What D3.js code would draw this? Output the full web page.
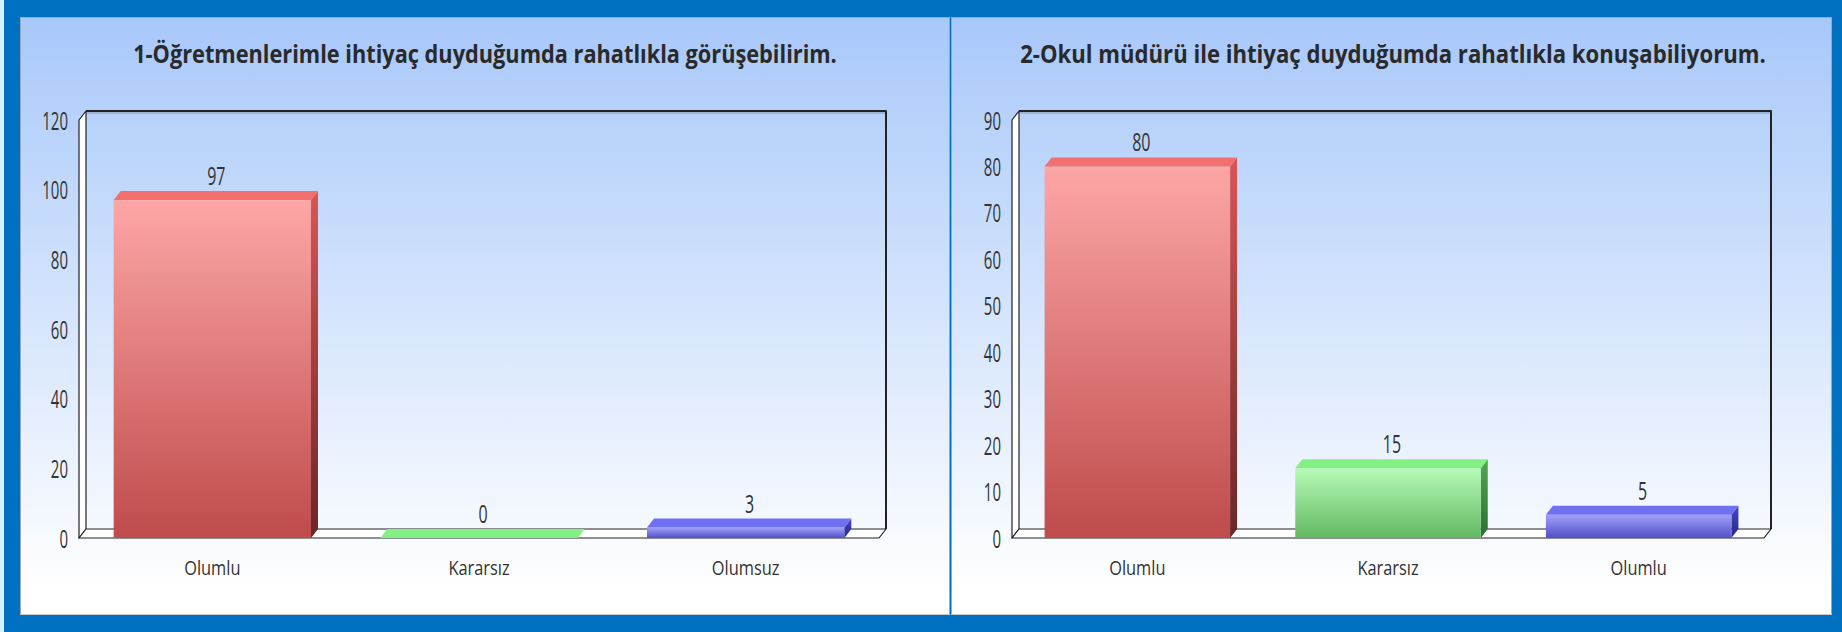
<!DOCTYPE html>
<html><head><meta charset="utf-8">
<script src="https://cdn.jsdelivr.net/npm/d3@7"></script>
<style>html,body{margin:0;padding:0;background:#0070C0;overflow:hidden} svg{display:block}</style>
</head><body>
<svg id="c" width="1842" height="632"></svg>
<script>
// ---- data ----
const titles = ["1-Öğretmenlerimle ihtiyaç duyduğumda rahatlıkla görüşebilirim.",
                "2-Okul müdürü ile ihtiyaç duyduğumda rahatlıkla konuşabiliyorum."];
const categories1 = ["Olumlu", "Kararsız", "Olumsuz"];
const values1 = [97, 0, 3];
const categories2 = ["Olumlu", "Kararsız", "Olumlu"];
const values2 = [80, 15, 5];
const yTicks1 = [0, 20, 40, 60, 80, 100, 120];
const yTicks2 = [0, 10, 20, 30, 40, 50, 60, 70, 80, 90];
const seriesColors = ["red", "green", "blue"];

// ---- styles ----
const palette = {
  red:   {frontTop: "#FDA6A6", frontBot: "#BF4B4B", top: "#F27070", sideTop: "#D95656", sideBot: "#672727"},
  green: {frontTop: "#B6FBB6", frontBot: "#62B862", top: "#82F082", sideTop: "#52A852", sideBot: "#2E6E2E"},
  blue:  {frontTop: "#A0A0FA", frontBot: "#5050C8", top: "#7070F2", sideTop: "#4848C4", sideBot: "#262688"}
};
const FONT = "'Open Sans', 'DejaVu Sans', sans-serif";
const TXT = "#333333";

const svg = d3.select("#c");
const defs = svg.append("defs");

// background
svg.append("rect").attr("width", 1842).attr("height", 632).attr("fill", "#0070C0");
svg.append("rect").attr("x", 0).attr("y", 0).attr("width", 4).attr("height", 632).attr("fill", "#D2F3FB");

const bg = defs.append("linearGradient").attr("id", "panelBg")
  .attr("gradientUnits", "userSpaceOnUse").attr("x1", 0).attr("y1", 17).attr("x2", 0).attr("y2", 590);
bg.append("stop").attr("offset", 0).attr("stop-color", "#A8C8FA");
bg.append("stop").attr("offset", 0.45).attr("stop-color", "#CFE1FC");
bg.append("stop").attr("offset", 1).attr("stop-color", "#FFFFFF");

Object.entries(palette).forEach(([k, c]) => {
  const f = defs.append("linearGradient").attr("id", "front-" + k).attr("x1", 0).attr("y1", 0).attr("x2", 0).attr("y2", 1);
  f.append("stop").attr("offset", 0).attr("stop-color", c.frontTop);
  f.append("stop").attr("offset", 1).attr("stop-color", c.frontBot);
  const s = defs.append("linearGradient").attr("id", "side-" + k).attr("x1", 0).attr("y1", 0).attr("x2", 0).attr("y2", 1);
  s.append("stop").attr("offset", 0).attr("stop-color", c.sideTop);
  s.append("stop").attr("offset", 1).attr("stop-color", c.sideBot);
});

const panels = [
  {x0: 20, x1: 950, L: 79, R: 879, tx: 485, tf: 0.87, title: titles[0], cats: categories1, vals: values1, ticks: yTicks1, max: 120},
  {x0: 951, x1: 1832, L: 1012, R: 1764, tx: 1393, tf: 0.885, title: titles[1], cats: categories2, vals: values2, ticks: yTicks2, max: 90}
];

// horizontal condensing of a text about its own anchor x
function squeeze(sel, f) {
  sel.each(function () {
    const x0 = +(this.getAttribute("x") || 0);
    d3.select(this).attr("transform", `translate(${x0},0) scale(${f},1) translate(${-x0},0)`);
  });
}

const DX = 7, DY = -9, Y0 = 538, YT = 120;

panels.forEach(p => {
  const g = svg.append("g");
  // panel
  g.append("rect").attr("x", p.x0).attr("y", 17).attr("width", p.x1 - p.x0).attr("height", 598)
    .attr("fill", "url(#panelBg)");
  g.append("path").attr("d", `M${p.x0 + 0.5},615 V17.5 H${p.x1 - 0.5} V615`).attr("fill", "none")
    .attr("stroke", "#9AA7B8").attr("stroke-width", 1);
  g.append("line").attr("x1", p.x0).attr("x2", p.x1).attr("y1", 614.5).attr("y2", 614.5).attr("stroke", "#C8C8C8");

  // title
  const t = g.append("text").attr("x", p.tx).attr("y", 63).attr("text-anchor", "middle")
    .attr("font-family", FONT).attr("font-weight", "bold").attr("font-size", 25).attr("fill", "#2A2A2A")
    .text(p.title);
  squeeze(t, p.tf);

  const x = d3.scaleBand().domain(d3.range(p.cats.length)).range([p.L, p.R]).paddingInner(0.26).paddingOuter(0.13);
  const y = d3.scaleLinear().domain([0, p.max]).range([Y0, YT]);
  const yTop = y(p.max);

  // frame: left wall, floor, back wall edges
  const fr = g.append("g").attr("stroke", "#222").attr("stroke-width", 1.2).attr("stroke-linejoin", "round");
  fr.append("path").attr("fill", "#FFFFFF")
    .attr("d", `M${p.L},${Y0} L${p.L + DX},${Y0 + DY} L${p.L + DX},${yTop + DY} L${p.L},${yTop} Z`);
  fr.append("path").attr("fill", "#FFFFFF")
    .attr("d", `M${p.L},${Y0} L${p.R},${Y0} L${p.R + DX},${Y0 + DY} L${p.L + DX},${Y0 + DY} Z`);
  fr.append("path").attr("fill", "none").attr("stroke-width", 2)
    .attr("d", `M${p.L + DX},${yTop + DY} H${p.R + DX} V${Y0 + DY}`);
  g.append("line").attr("x1", p.L + DX + 1).attr("x2", p.R + DX - 1).attr("y1", yTop + DY + 2).attr("y2", yTop + DY + 2)
    .attr("stroke", "#8A96A8").attr("stroke-width", 1);

  // y axis
  const ya = g.append("g").attr("transform", `translate(${p.L},0)`)
    .call(d3.axisLeft(y).tickValues(p.ticks).tickSize(0).tickPadding(11));
  ya.select(".domain").remove();
  ya.selectAll("text").attr("font-family", FONT).attr("font-size", 25).attr("fill", TXT).attr("dy", "0.36em");
  squeeze(ya.selectAll("text"), 0.6);

  // bars
  const bw = x.bandwidth();
  const bars = g.selectAll("g.bar").data(p.vals).join("g").attr("class", "bar");
  bars.append("path").attr("fill", (d, i) => `url(#side-${seriesColors[i]})`)
    .attr("d", (d, i) => {
      const x1 = x(i) + bw, yv = y(d);
      return `M${x1},${yv} L${x1 + DX},${yv + DY} L${x1 + DX},${Y0 + DY} L${x1},${Y0} Z`;
    });
  bars.append("rect").attr("x", (d, i) => x(i)).attr("y", d => y(d)).attr("width", bw)
    .attr("height", d => Math.max(0.01, Y0 - y(d)))
    .attr("fill", (d, i) => `url(#front-${seriesColors[i]})`);
  bars.append("path").attr("fill", (d, i) => palette[seriesColors[i]].top)
    .attr("d", (d, i) => {
      const x0 = x(i), yv = y(d);
      return `M${x0},${yv} L${x0 + DX},${yv + DY} L${x0 + bw + DX},${yv + DY} L${x0 + bw},${yv} Z`;
    });
  const vl = bars.append("text").attr("x", (d, i) => x(i) + bw / 2 + 4).attr("y", d => y(d) + DY - 6)
    .attr("text-anchor", "middle").attr("font-family", FONT).attr("font-size", 25).attr("fill", TXT)
    .text(d => d);
  squeeze(vl, 0.64);

  // x axis labels
  const xa = g.append("g").attr("transform", `translate(0,${Y0})`)
    .call(d3.axisBottom(x).tickFormat(i => p.cats[i]).tickSize(0).tickPadding(23));
  xa.select(".domain").remove();
  xa.selectAll("text").attr("font-family", FONT).attr("font-size", 20).attr("fill", TXT);
  squeeze(xa.selectAll("text"), 0.82);
});
</script>
</body></html>
